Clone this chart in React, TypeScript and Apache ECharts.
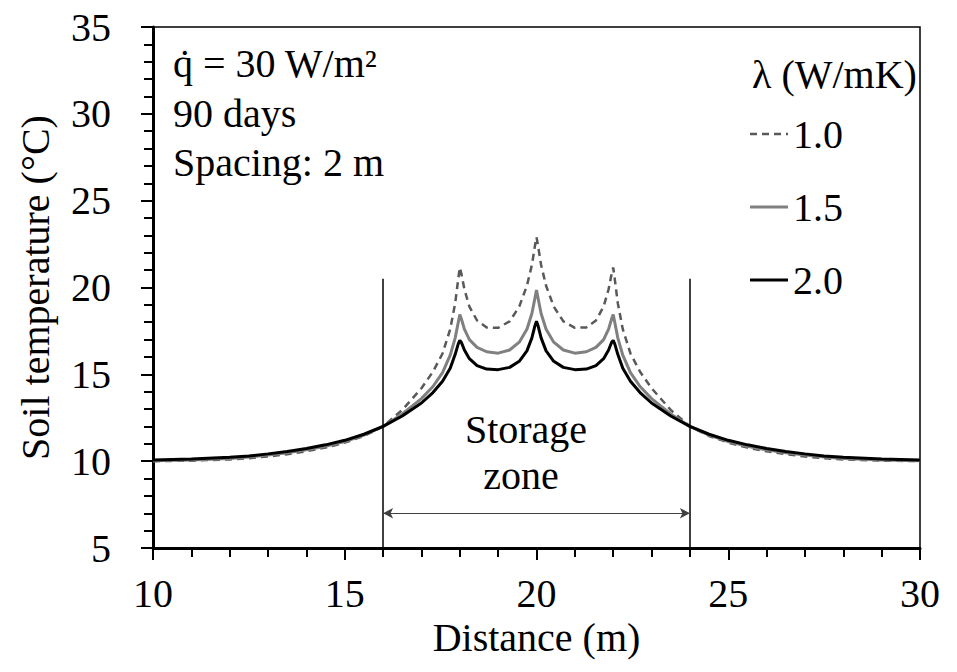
import React, { useEffect, useRef } from "react";
import * as echarts from "echarts";

const FONT = "Liberation Serif";

const distance = [
  10, 11, 12, 12.5, 13, 13.5, 14, 14.5, 15, 15.5, 16, 16.5, 17, 17.3, 17.55, 17.75, 17.88, 17.96, 18, 18.04, 18.12, 18.25, 18.45, 18.7, 19.0, 19.3, 19.55, 19.75, 19.88, 19.96, 20,
  20.04, 20.12, 20.25, 20.45, 20.7, 21.0, 21.3, 21.55, 21.75, 21.88, 21.96, 22, 22.04, 22.12, 22.25, 22.45, 22.7, 23, 23.5, 24, 24.5, 25, 25.5, 26, 26.5, 27, 27.5, 28, 29, 30,
];

const temp10 = [
  10.0, 10.03, 10.1, 10.17, 10.27, 10.4, 10.57, 10.78, 11.07, 11.45, 12.0, 12.95, 14.2, 15.15, 16.2, 17.6, 19.1, 20.5, 21.15, 20.8, 19.9, 18.9, 18.1, 17.7, 17.68, 18.05, 18.9, 20.1, 21.3, 22.4, 22.9,
  22.4, 21.3, 20.1, 18.9, 18.05, 17.68, 17.7, 18.1, 18.9, 19.9, 20.8, 21.15, 20.5, 19.1, 17.6, 16.2, 15.15, 14.2, 12.95, 12.0, 11.45, 11.07, 10.78, 10.57, 10.4, 10.27, 10.17, 10.1, 10.03, 10.0,
];

const temp15 = [
  10.03, 10.07, 10.16, 10.24, 10.35, 10.49, 10.65, 10.86, 11.13, 11.5, 12.0, 12.72, 13.6, 14.3, 15.1, 16.1, 17.1, 18.0, 18.45, 18.2, 17.6, 17.0, 16.55, 16.3, 16.22, 16.4, 16.85, 17.6, 18.5, 19.4, 19.85,
  19.4, 18.5, 17.6, 16.85, 16.4, 16.22, 16.3, 16.55, 17.0, 17.6, 18.2, 18.45, 18.0, 17.1, 16.1, 15.1, 14.3, 13.6, 12.72, 12.0, 11.5, 11.13, 10.86, 10.65, 10.49, 10.35, 10.24, 10.16, 10.07, 10.03,
];

const temp20 = [
  10.07, 10.12, 10.22, 10.3, 10.42, 10.56, 10.73, 10.94, 11.2, 11.55, 12.0, 12.6, 13.35, 13.95, 14.6, 15.35, 16.15, 16.75, 16.95, 16.85, 16.4, 15.9, 15.5, 15.3, 15.27, 15.4, 15.75, 16.35, 17.1, 17.8, 18.05,
  17.8, 17.1, 16.35, 15.75, 15.4, 15.27, 15.3, 15.5, 15.9, 16.4, 16.85, 16.95, 16.75, 16.15, 15.35, 14.6, 13.95, 13.35, 12.6, 12.0, 11.55, 11.2, 10.94, 10.73, 10.56, 10.42, 10.3, 10.22, 10.12, 10.07,
];

const seriesNames = ["1.0", "1.5", "2.0"];
const seriesColors = ["#595959", "#808080", "#000000"];
const seriesWidths = [2.5, 3, 3];
const seriesDash: (number[] | null)[] = [[7, 5], null, null];
const storageStart = 16;
const storageEnd = 24;
const storageLineTop = 20.5;
const arrowLevel = 7;

const annotationLines = ["q\u0307 = 30 W/m\u00B2", "90 days", "Spacing: 2 m"];
const legendTitle = "\u03BB (W/mK)";

export default function App() {
  const ref = useRef<HTMLDivElement>(null);

  useEffect(() => {
    document.body.style.margin = "0";
    if (!ref.current) return;
    const chart = echarts.init(ref.current, undefined, { renderer: "svg" });
    const pair = (ys: number[]) => distance.map((x, i) => [x, ys[i]]);
    const values = [temp10, temp15, temp20];
    const txt = (text: string, x: number, y: number, align = "left") => ({
      type: "text",
      x,
      y,
      style: { text, fontSize: 40, fontFamily: FONT, fill: "#000", textAlign: align, textVerticalAlign: "middle" },
    });

    const option: any = {
      animation: false,
      backgroundColor: "#fff",
      textStyle: { fontFamily: FONT },
      grid: {
        left: 153,
        right: 37,
        top: 27,
        bottom: 124,
        show: true,
        borderColor: "#000",
        borderWidth: 1.5,
        backgroundColor: "transparent",
      },
      xAxis: {
        type: "value",
        min: 10,
        max: 30,
        interval: 5,
        name: "Distance (m)",
        nameLocation: "middle",
        nameGap: 54,
        nameTextStyle: { fontSize: 40, fontFamily: FONT, color: "#000" },
        axisLine: { onZero: false, lineStyle: { color: "#000", width: 3 } },
        axisTick: { length: 12, lineStyle: { color: "#000", width: 2 } },
        minorTick: { show: true, splitNumber: 5, length: 9, lineStyle: { color: "#000", width: 2 } },
        splitLine: { show: false },
        axisLabel: { fontSize: 40, fontFamily: FONT, color: "#000", margin: 25 },
      },
      yAxis: {
        type: "value",
        min: 5,
        max: 35,
        interval: 5,
        name: "Soil temperature (\u00B0C)",
        nameLocation: "middle",
        nameGap: 98,
        nameTextStyle: { fontSize: 40, fontFamily: FONT, color: "#000" },
        axisLine: { onZero: false, lineStyle: { color: "#000", width: 3 } },
        axisTick: { length: 12, lineStyle: { color: "#000", width: 2 } },
        minorTick: { show: true, splitNumber: 5, length: 9, lineStyle: { color: "#000", width: 2 } },
        splitLine: { show: false },
        axisLabel: { fontSize: 40, fontFamily: FONT, color: "#000", margin: 42 },
      },
      series: seriesNames.map((name, k) => ({
        name,
        type: "line",
        data: pair(values[k]),
        symbol: "none",
        smooth: false,
        lineStyle: { color: seriesColors[k], width: seriesWidths[k], type: seriesDash[k] || "solid" },
        itemStyle: { color: seriesColors[k] },
        z: 3 + k,
        ...(k === 2
          ? {
              markLine: {
                silent: true,
                symbol: "none",
                label: { show: false },
                lineStyle: { color: "#000", width: 1.5, type: "solid" },
                data: [
                  [{ coord: [storageStart, 5] }, { coord: [storageStart, storageLineTop] }],
                  [{ coord: [storageEnd, 5] }, { coord: [storageEnd, storageLineTop] }],
                  [
                    { coord: [storageStart, arrowLevel], symbol: "arrow", symbolSize: [8, 10], lineStyle: { width: 1, color: "#404040" } },
                    { coord: [storageEnd, arrowLevel], symbol: "arrow", symbolSize: [8, 10] },
                  ],
                ],
              },
            }
          : {}),
      })),
      graphic: [
        ...annotationLines.map((t, i) => txt(t, 173, 63.5 + i * 49.5)),
        txt(legendTitle, 752, 74),
        ...seriesNames.map((name, k) => ({
          type: "line",
          shape: { x1: 750, y1: 134 + k * 73, x2: 788, y2: 134 + k * 73 },
          style: {
            stroke: seriesColors[k],
            lineWidth: seriesWidths[k],
            lineDash: seriesDash[k] || null,
          },
        })),
        ...seriesNames.map((name, k) => txt(name, 793, 134 + k * 73)),
        txt("Storage", 526, 429, "center"),
        txt("zone", 521, 475, "center"),
      ],
    };

    chart.setOption(option);
    return () => chart.dispose();
  }, []);

  return <div ref={ref} style={{ width: 957, height: 672 }} />;
}
